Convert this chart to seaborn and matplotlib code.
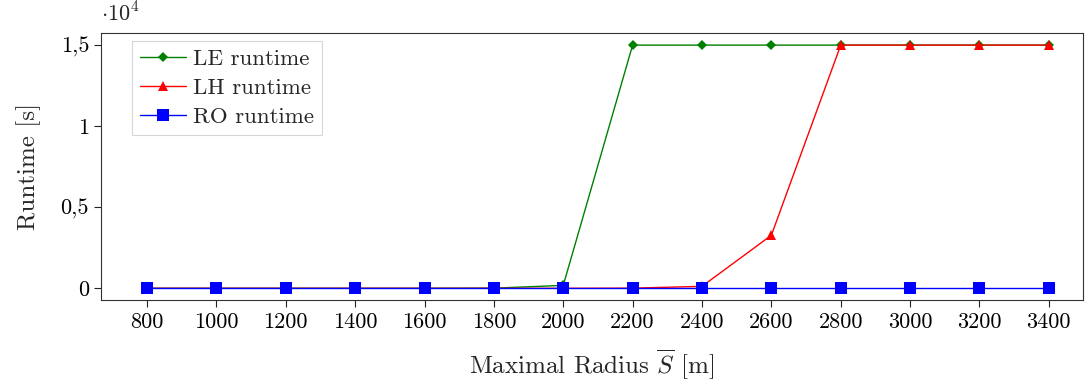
#!/usr/bin/env python3
import matplotlib
matplotlib.use('Agg')
import matplotlib.pyplot as plt
import numpy as np
import pandas as pd
import seaborn as sns

RADIUS = [800, 1000, 1200, 1400, 1600, 1800, 2000, 2200, 2400, 2600, 2800, 3000, 3200, 3400]
LE_RUNTIME = [0, 0, 0, 0, 0, 10, 180, 15000, 15000, 15000, 15000, 15000, 15000, 15000]
LH_RUNTIME = [0, 0, 0, 0, 0, 0, 0, 10, 120, 3270, 15000, 15000, 15000, 15000]
RO_RUNTIME = [0, 0, 0, 0, 0, 0, 0, 0, 0, 0, 0, 0, 0, 0]
SERIES = ['LE runtime', 'LH runtime', 'RO runtime']
Y_TICKS = [0, 5000, 10000, 15000]
Y_TICK_LABELS = ['0', '0,5', '1', '1,5']

sns.set_style('ticks')
plt.rcParams['font.family'] = ['cmr10', 'DejaVu Serif']
plt.rcParams['mathtext.fontset'] = 'cm'
plt.rcParams['axes.formatter.use_mathtext'] = True

df = pd.DataFrame({
    'radius': RADIUS * 3,
    'runtime': LE_RUNTIME + LH_RUNTIME + RO_RUNTIME,
    'series': [s for s in SERIES for _ in RADIUS],
})

fig, ax = plt.subplots(figsize=(10.85, 3.85), dpi=100)
fig.subplots_adjust(left=0.093, right=0.998, top=0.914, bottom=0.22)

palette = {'LE runtime': '#008000', 'LH runtime': '#ff0000', 'RO runtime': '#0000ff'}
markers = {'LE runtime': 'D', 'LH runtime': '^', 'RO runtime': 's'}
sizes = {'LE runtime': 5, 'LH runtime': 7, 'RO runtime': 8}

for name in SERIES:
    sub = df[df['series'] == name]
    sns.lineplot(data=sub, x='radius', y='runtime', color=palette[name], marker=markers[name],
                 markersize=sizes[name], markeredgewidth=0, linewidth=1, label=name, ax=ax)

ax.set_xlim(667, 3498)
ax.set_ylim(-740, 15740)
ax.set_xticks(RADIUS)
ax.set_xticklabels([str(r) for r in RADIUS])
ax.set_yticks(Y_TICKS)
ax.set_yticklabels(Y_TICK_LABELS)
ax.tick_params(axis='both', labelsize=16, direction='out', length=5, width=0.8, colors='#222222')
ax.tick_params(axis='both', labelcolor='black')
for sp in ax.spines.values():
    sp.set_visible(True)
    sp.set_linewidth(0.8)
    sp.set_color('#333333')

ax.set_xlabel(r'Maximal Radius $\overline{S}$ [m]', fontsize=18, labelpad=11)
ax.set_ylabel('Runtime [s]', fontsize=18, labelpad=14)
ax.text(0.0, 1.03, r'$\cdot 10^4$', transform=ax.transAxes, fontsize=16, ha='left', va='bottom')

leg = ax.legend(loc='upper left', bbox_to_anchor=(0.0316, 0.97), borderaxespad=0, fontsize=16.5,
                frameon=True, fancybox=False, handlelength=2.0, handletextpad=0.3, borderpad=0.35,
                labelspacing=0.38)
leg.get_frame().set_edgecolor('#cccccc')
leg.get_frame().set_linewidth(0.8)

fig.savefig('out.png', dpi=100)
